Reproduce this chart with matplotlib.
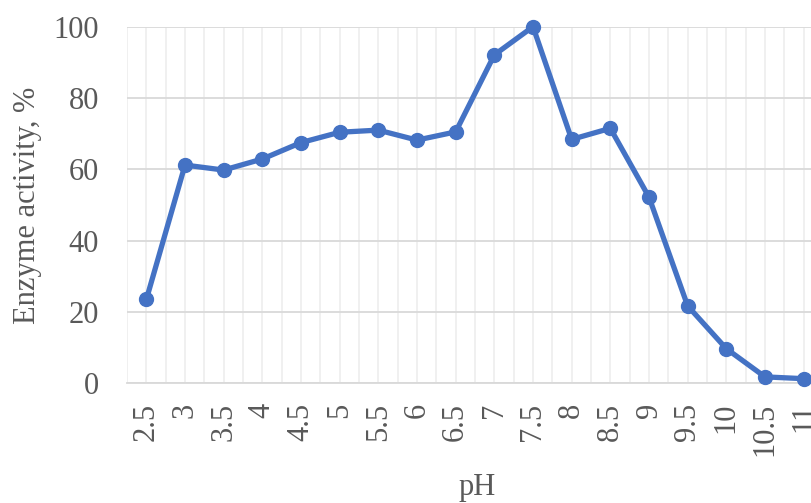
import matplotlib
matplotlib.use("Agg")
import matplotlib.pyplot as plt
import matplotlib.ticker as mticker

# pH categories and measured relative activity (%)
ph_labels = ["2.5", "3", "3.5", "4", "4.5", "5", "5.5", "6", "6.5", "7",
             "7.5", "8", "8.5", "9", "9.5", "10", "10.5", "11"]
activity = [23.5, 61.2, 59.8, 62.9, 67.5, 70.4, 71.0, 68.2, 70.5, 92.1,
            100.0, 68.4, 71.5, 52.2, 21.7, 9.7, 1.8, 1.3]
y_ticks = [0, 20, 40, 60, 80, 100]

plt.rcParams["font.family"] = ["Liberation Serif", "DejaVu Serif"]
text_color = "#595959"

fig = plt.figure(figsize=(8.11, 5.03), dpi=100)
W, H = 811, 503
left, right, top, bottom = 127, 823, 26.7, 383.3
ax = fig.add_axes([left / W, 1 - bottom / H, (right - left) / W, (bottom - top) / H])

x = list(range(len(ph_labels)))
ax.plot(x, activity, color="#4472C4", linewidth=3.8, marker="o",
        markersize=10, clip_on=False, zorder=3)

ax.set_xlim(-0.5, len(ph_labels) - 0.5)
ax.set_ylim(0, 100)

ax.set_xticks(x)
ax.set_xticklabels(ph_labels, rotation=90, fontsize=22, color=text_color)
ax.xaxis.set_minor_locator(mticker.FixedLocator([i - 0.5 for i in range(len(ph_labels) + 1)]))
ax.set_yticks(y_ticks)
ax.set_yticklabels([str(v) for v in y_ticks], fontsize=22, color=text_color)

ax.tick_params(axis="both", which="both", length=0)
ax.tick_params(axis="x", pad=14)
ax.tick_params(axis="y", pad=20)

ax.grid(True, axis="y", which="major", color="#D9D9D9", linewidth=1.3, zorder=0)
ax.grid(True, axis="x", which="both", color="#EFEFEF", linewidth=1.3, zorder=0)
ax.set_axisbelow(True)

for s in ["top", "right", "left"]:
    ax.spines[s].set_visible(False)
ax.spines["bottom"].set_color("#D9D9D9")
ax.spines["bottom"].set_linewidth(1.3)

fig.text(28 / W, 1 - 205 / H, "Enzyme activity, %", fontsize=22, color=text_color,
         ha="center", va="center", rotation=90)
fig.text(477 / W, 1 - 488 / H, "pH", fontsize=22, color=text_color,
         ha="center", va="center")

fig.savefig("out.png", dpi=100)
